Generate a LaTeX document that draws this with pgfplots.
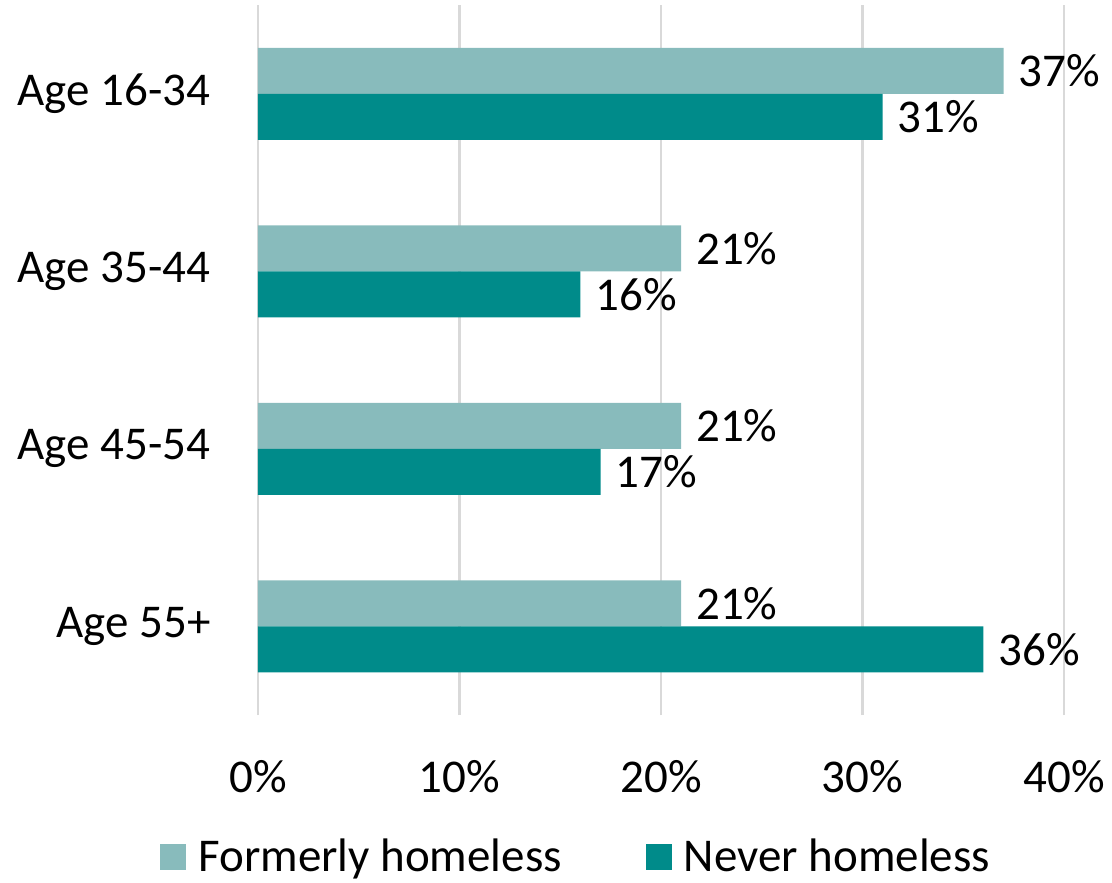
\documentclass[border=0pt]{standalone}
\usepackage{pgfplots}
\pgfplotsset{compat=1.18}
\usepackage{fontspec}
\setmainfont{Carlito}
\definecolor{lightteal}{HTML}{88BBBC}
\definecolor{darkteal}{HTML}{008B8A}
\begin{document}
\begin{tikzpicture}
\begin{axis}[
  at={(0,0)}, anchor=south west,
  scale only axis, width=403pt, height=355pt,
  xbar, bar width=23pt,
  xmin=0, xmax=40, ymin=-0.5, ymax=3.5,
  enlargelimits=false,
  xtick={0,10,20,30,40},
  xticklabel={\pgfmathprintnumber{\tick}\%},
  xticklabel style={yshift=-19pt},
  ytick={0,1,2,3},
  yticklabels={Age 55+, Age 45-54, Age 35-44, Age 16-34},
  yticklabel style={xshift=-16pt},
  axis line style={draw=none},
  tick style={draw=none},
  xmajorgrids, grid style={black!15, line width=1.2pt},
  font=\fontsize{23.5}{28}\selectfont,
  /pgf/number format/assume math mode=true,
  nodes near coords={\pgfmathprintnumber{\pgfplotspointmeta}\%},
  nodes near coords style={anchor=west, xshift=4pt, font=\fontsize{23.5}{28}\selectfont, text=black},
  legend style={at={(0.396,-0.2)}, anchor=center, draw=none, legend columns=2,
    font=\fontsize{23.5}{28}\selectfont,
    /tikz/every even column/.append style={column sep=40pt}},
  legend image code/.code={\fill[#1] (0pt,-6.5pt) rectangle (13pt,6.5pt); \path (17pt,0pt);},
]
\addplot[fill=lightteal, draw=none, bar shift=11.5pt] coordinates {(37,3) (21,2) (21,1) (21,0)};
\addlegendentry{Formerly homeless}
\addplot[fill=darkteal, draw=none, bar shift=-11.5pt] coordinates {(31,3) (16,2) (17,1) (36,0)};
\addlegendentry{Never homeless}
\end{axis}
\path (-129pt,-82.5pt) rectangle (427pt,357.5pt);
\end{tikzpicture}
\end{document}
